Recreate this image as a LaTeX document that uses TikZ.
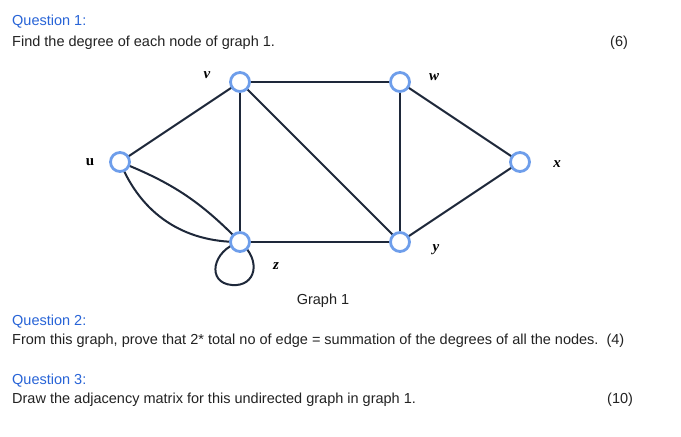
\documentclass[tikz,border=0pt]{standalone}
\usepackage{fontspec}
\setmainfont{Liberation Sans}
\newfontfamily\lblfont{Liberation Serif}
\usetikzlibrary{calc}
\definecolor{qblue}{RGB}{40,100,215}
\definecolor{ringblue}{RGB}{110,158,235}
\definecolor{edgecol}{RGB}{30,40,58}
\definecolor{txtcol}{RGB}{34,34,34}

\begin{document}
\begin{tikzpicture}[x=1pt,y=-1pt,
	vtx/.style={circle, draw=ringblue, line width=2.8pt, fill=white, minimum size=19pt, inner sep=0pt},
	edg/.style={draw=edgecol, line width=2pt},
	lbl/.style={font=\lblfont\bfseries\itshape\fontsize{15}{15}\selectfont, text=black},
	qtitle/.style={anchor=base west, text=qblue, font=\fontsize{14.5}{16}\selectfont, inner sep=0pt},
	qtext/.style={anchor=base west, text=txtcol, font=\fontsize{14.5}{16}\selectfont, inner sep=0pt}]
			%%%%% START %%%%%
			
			\useasboundingbox[fill=white] (0,0) rectangle (681,437);
			
			\node[qtitle] (q1) at (12,25) {Question 1:};
			\node[qtext] (t1) at (12,46) {Find the degree of each node of graph 1.};
			\node[qtext] (m1) at (610,46) {(6)};
			
			\coordinate (cv) at (240,82);
			\coordinate (cw) at (400,82);
			\coordinate (cu) at (120,162);
			\coordinate (cx) at (520,162);
			\coordinate (cz) at (240,242);
			\coordinate (cy) at (400,242);
			
			\coordinate (lp) at (232,285);
			
			% edges
			\draw[edg] (cu) -- (cv);
			\draw[edg] (cv) -- (cw);
			\draw[edg] (cv) -- (cz);
			\draw[edg] (cv) -- (cy);
			\draw[edg] (cw) -- (cy);
			\draw[edg] (cw) -- (cx);
			\draw[edg] (cx) -- (cy);
			\draw[edg] (cz) -- (cy);
			\draw[edg] (cu) to[bend left=12] (cz);
			\draw[edg] (cu) to[bend right=34] (cz);
			\draw[edg] (cz) .. controls (212,250) and (206,283) .. (lp) .. controls (256,287) and (262,260) .. (cz);
			
			% nodes
			\node[vtx] (v) at (cv) {};
			\node[vtx] (w) at (cw) {};
			\node[vtx] (u) at (cu) {};
			\node[vtx] (x) at (cx) {};
			\node[vtx] (z) at (cz) {};
			\node[vtx] (y) at (cy) {};
			
			\node[lbl] (lv) at (207,75) {v};
			\node[lbl] (lw) at (434,77) {w};
			\node[lbl, font=\lblfont\bfseries\fontsize{15}{15}\selectfont] (lu) at (90,162) {u};
			\node[lbl] (lx) at (557,164) {x};
			\node[lbl] (ly) at (436,250) {y};
			\node[lbl] (lz) at (276,266) {z};
			
			\node[text=txtcol, font=\fontsize{14.5}{16}\selectfont] (cap) at (323,301) {Graph 1};
			
			\node[qtitle] (q2) at (12,325) {Question 2:};
			\node[qtext] (t2) at (12,344) {From this graph, prove that 2* total no of edge = summation of the degrees of all the nodes.\ \ (4)};
			
			\node[qtitle] (q3) at (12,384) {Question 3:};
			\node[qtext] (t3) at (12,403) {Draw the adjacency matrix for this undirected graph in graph 1.};
			\node[qtext] (m3) at (607,403) {(10)};
			
			%%%%% END %%%%%
		\end{tikzpicture}
\end{document}
